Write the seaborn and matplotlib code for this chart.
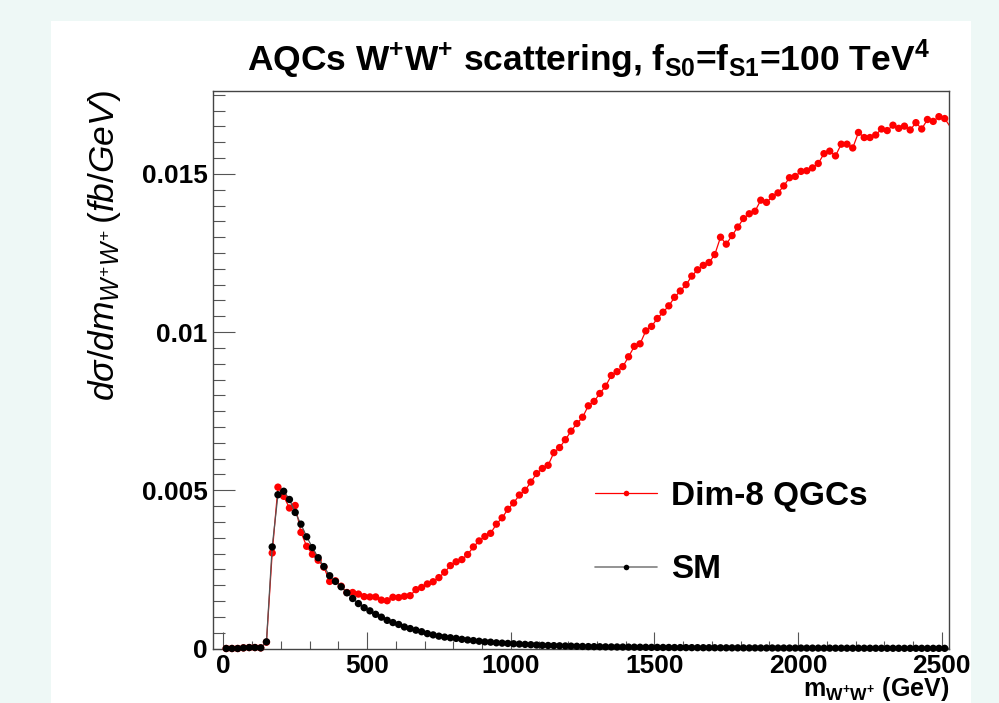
import matplotlib
matplotlib.use("Agg")
import matplotlib.pyplot as plt
import numpy as np
import pandas as pd
import seaborn as sns
from matplotlib.lines import Line2D
from matplotlib.patches import Rectangle
from matplotlib.ticker import MultipleLocator

# ---------------- data ----------------
mass_gev = list(range(10, 2531, 20))  # bin centres, 20 GeV bins

sm_xsec = [
    0, 0, 0, 0.00002, 0.00003, 0.00003, 0.00002, 0.00021, 0.00321, 0.00486,
    0.00497, 0.00471, 0.00430, 0.00393, 0.00353, 0.00319, 0.00287, 0.00259, 0.00230, 0.00212,
    0.00195, 0.00176, 0.00158, 0.00142, 0.00129, 0.00119, 0.00108, 0.00099, 0.00089, 0.00082,
    0.00076, 0.00068, 0.00063, 0.00058, 0.00053, 0.00047, 0.00043, 0.00039, 0.00036, 0.00034,
    0.00032, 0.00029, 0.00027, 0.00025, 0.00023, 0.00021, 0.00020, 0.00018, 0.00017, 0.00016,
    0.00015, 0.00014, 0.00013, 0.00012, 0.00011, 0.00010, 0.000095, 0.00009, 0.000085, 0.00008,
    0.000075, 0.00007, 0.000065, 0.00006, 0.000058, 0.000055, 0.000052, 0.00005, 0.000048, 0.000046,
    0.000044, 0.000042, 0.00004, 0.000038, 0.000036, 0.000035, 0.000033, 0.000032, 0.00003, 0.000029,
    0.000028, 0.000027, 0.000026, 0.000025, 0.000024, 0.000023, 0.000022, 0.000021, 0.00002, 0.00002,
    0.000019, 0.000018, 0.000018, 0.000017, 0.000016, 0.000016, 0.000015, 0.000015, 0.000014, 0.000014,
    0.000013, 0.000013, 0.000012, 0.000012, 0.000011, 0.000011, 0.00001, 0.00001, 0.00001, 0.000009,
    0.000009, 0.000009, 0.000008, 0.000008, 0.000008, 0.000007, 0.000007, 0.000007, 0.000006, 0.000006,
    0.000006, 0.000006, 0.000005, 0.000005, 0.000005, 0.000005, 0.000005,
]

qgc_xsec = [
    0, 0, 0, 0.00002, 0.00003, 0.00003, 0.00002, 0.00020, 0.00302, 0.00510,
    0.00481, 0.00444, 0.00452, 0.00367, 0.00323, 0.00298, 0.00279, 0.00257, 0.00212, 0.00214,
    0.00197, 0.00177, 0.00177, 0.00172, 0.00164, 0.00163, 0.00163, 0.00153, 0.00151, 0.00162,
    0.00161, 0.00165, 0.00167, 0.00186, 0.00193, 0.00204, 0.00211, 0.00224, 0.00241, 0.00262,
    0.00274, 0.00281, 0.00297, 0.00321, 0.00340, 0.00354, 0.00364, 0.00393, 0.00413, 0.00440,
    0.00460, 0.00485, 0.00500, 0.00526, 0.00553, 0.00569, 0.00579, 0.00619, 0.00635, 0.00660,
    0.00687, 0.00711, 0.00731, 0.00767, 0.00781, 0.00806, 0.00829, 0.00863, 0.00875, 0.00891,
    0.00922, 0.00955, 0.00963, 0.01004, 0.01018, 0.01043, 0.01063, 0.01083, 0.01110, 0.01130,
    0.01150, 0.01177, 0.01197, 0.01211, 0.01220, 0.01245, 0.01300, 0.01278, 0.01305, 0.01332,
    0.01359, 0.01374, 0.01382, 0.01417, 0.01410, 0.01428, 0.01440, 0.01462, 0.01488, 0.01492,
    0.01508, 0.01510, 0.01519, 0.01533, 0.01564, 0.01572, 0.01557, 0.01594, 0.01594, 0.01582,
    0.01631, 0.01615, 0.01615, 0.01623, 0.01642, 0.01637, 0.01654, 0.01644, 0.01651, 0.01639,
    0.01662, 0.01642, 0.01672, 0.01666, 0.01681, 0.01675, 0.01648,
]

series_names = ["Dim-8 QGCs", "SM"]
x_ticks = [0, 500, 1000, 1500, 2000, 2500]
x_tick_labels = ["0", "500", "1000", "1500", "2000", "2500"]
y_ticks = [0, 0.005, 0.01, 0.015]
y_tick_labels = ["0", "0.005", "0.01", "0.015"]

title_text = (r"AQCs W$^{\mathbf{+}}$W$^{\mathbf{+}}$ scattering, "
              r"f$_{\mathbf{S0}}$=f$_{\mathbf{S1}}$=100 TeV$^{\mathbf{4}}$")
ylabel_text = r"$\mathit{d\sigma/dm_{W^{+}W^{+}}\,(fb/GeV)}$"
xlabel_text = r"m$_{\mathbf{W^{+}W^{+}}}$ (GeV)"

# ---------------- style ----------------
sns.set_style("ticks")
plt.rcParams["font.family"] = ["Liberation Sans", "DejaVu Sans"]
plt.rcParams["mathtext.fontset"] = "custom"
plt.rcParams["mathtext.rm"] = "Liberation Sans"
plt.rcParams["mathtext.it"] = "Liberation Sans:italic"
plt.rcParams["mathtext.bf"] = "Liberation Sans:bold"
for key in ["text.color", "axes.labelcolor", "xtick.labelcolor", "ytick.labelcolor"]:
    plt.rcParams[key] = "black"

df = pd.DataFrame({
    "mass": mass_gev + mass_gev,
    "xsec": qgc_xsec + sm_xsec,
    "sample": [series_names[0]] * len(mass_gev) + [series_names[1]] * len(mass_gev),
})

W, H = 999, 703
fig = plt.figure(figsize=(W / 100, H / 100), dpi=100)
fig.patch.set_facecolor("#eef8f6")
fig.patches.append(Rectangle((51 / W, 0), (971 - 51) / W, (H - 21) / H,
                             transform=fig.transFigure, facecolor="white",
                             edgecolor="none", zorder=-5))

ax_l, ax_r, ax_t, ax_b = 213, 949, 90.7, 648.5
ax = fig.add_axes([ax_l / W, 1 - ax_b / H, (ax_r - ax_l) / W, (ax_b - ax_t) / H])
ax.set_zorder(1)
ax.set_facecolor("white")

XMIN, XMAX = -36, 2525
YMIN, YMAX = 0, 0.01763

styles = {
    series_names[0]: dict(line="#ff0000", marker="#ff0000", z=2),
    series_names[1]: dict(line="#555555", marker="#000000", z=4),
}
for name in series_names:
    sub = df[df["sample"] == name]
    st = styles[name]
    sns.lineplot(data=sub, x="mass", y="xsec", color=st["line"], lw=0.9,
                 ax=ax, legend=False, zorder=st["z"], estimator=None)
    vis = sub[(sub["mass"] >= XMIN) & (sub["mass"] <= XMAX)]
    sns.scatterplot(data=vis, x="mass", y="xsec", color=st["marker"], s=28,
                    edgecolor="none", linewidth=0, ax=ax, legend=False,
                    zorder=st["z"] + 1, clip_on=False)

ax.set_xlim(XMIN, XMAX)
ax.set_ylim(YMIN, YMAX)
ax.set_xlabel("")
ax.set_ylabel("")

ax.set_xticks(x_ticks, x_tick_labels)
ax.set_yticks(y_ticks, y_tick_labels)
ax.xaxis.set_minor_locator(MultipleLocator(100))
ax.yaxis.set_minor_locator(MultipleLocator(0.0005))
ax.tick_params(axis="both", which="both", direction="in", top=False, right=False,
               color="#555555", width=0.8, labelcolor="black")
ax.tick_params(axis="x", which="major", length=12, pad=4)
ax.tick_params(axis="x", which="minor", length=6)
ax.tick_params(axis="y", which="major", length=16, pad=4)
ax.tick_params(axis="y", which="minor", length=8.5)
for lab in ax.get_xticklabels() + ax.get_yticklabels():
    lab.set_fontsize(19)
    lab.set_fontweight("bold")
for sp in ax.spines.values():
    sp.set_color("#444444")
    sp.set_linewidth(1.0)

# title, axis titles
fig.text(588 / W, 1 - 70.5 / H, title_text, ha="center", va="baseline",
         fontsize=25.5, fontweight="bold")
fig.text(105 / W, 1 - 90 / H, ylabel_text, rotation=90, ha="center", va="top",
         fontsize=25.5)
fig.text(ax_r / W, 1 - 696 / H, xlabel_text, ha="right", va="baseline",
         fontsize=18, fontweight="bold")

# legend
handles = [
    Line2D([], [], color="#ff0000", lw=0.9, marker="o", markersize=4,
           markerfacecolor="#ff0000", markeredgecolor="none"),
    Line2D([], [], color="#808080", lw=1.2, marker="o", markersize=4,
           markerfacecolor="#000000", markeredgecolor="none"),
]
leg = fig.legend(handles, series_names, loc="upper left",
                 bbox_to_anchor=(595 / W, 1 - 481 / H), frameon=False,
                 prop=dict(family="Liberation Sans", weight="bold", size=24),
                 handlelength=1.85, handletextpad=0.42, labelspacing=1.27,
                 borderpad=0, borderaxespad=0)
leg.set_zorder(10)

fig.savefig("out.png", dpi=100, facecolor=fig.get_facecolor())
